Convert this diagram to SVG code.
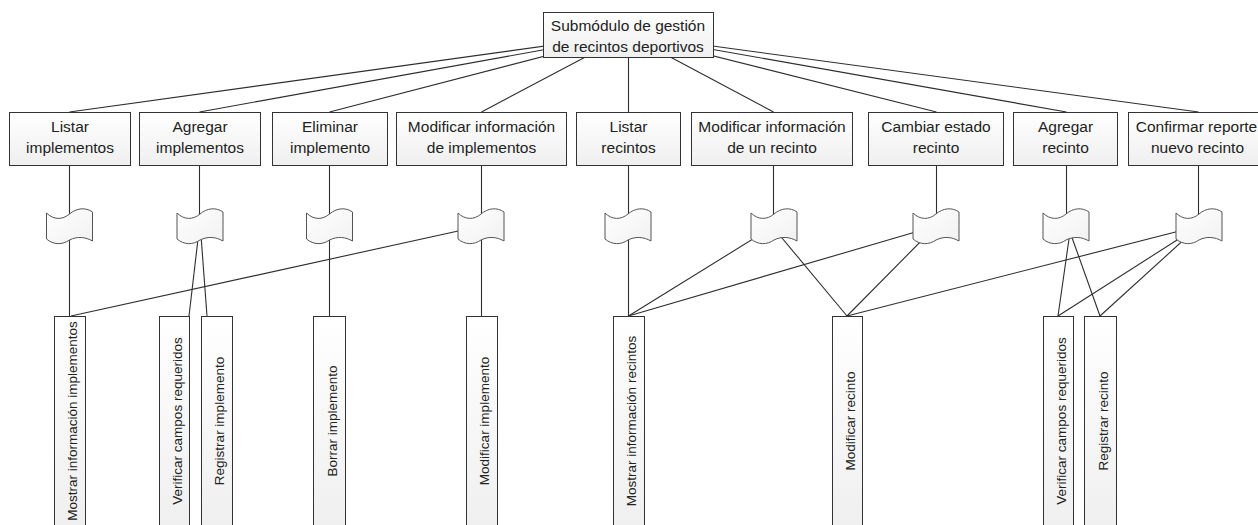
<svg xmlns="http://www.w3.org/2000/svg" width="1258" height="525" viewBox="0 0 1258 525">
  <defs>
    <linearGradient id="boxFill" x1="0" y1="0" x2="0" y2="1">
      <stop offset="0" stop-color="#ffffff"/>
      <stop offset="1" stop-color="#efefef"/>
    </linearGradient>
    <linearGradient id="flagFill" x1="0" y1="0" x2="1" y2="1">
      <stop offset="0" stop-color="#ffffff"/>
      <stop offset="1" stop-color="#f1f1f1"/>
    </linearGradient>
    <!-- wavy "tape" symbol, centred on its origin -->
    <path id="tape" d="M -23,-13 C -16,-6 -7,-6 0,-12 C 7,-18 16,-19 23,-14 L 23,15 C 16,11 8,10 0,14 C -7,19 -16,19 -23,13 Z"/>
  </defs>
  <style>
    .box { fill: url(#boxFill); stroke: #333333; stroke-width: 1; }
    .flag { fill: url(#flagFill); stroke: #555555; stroke-width: 1; }
    .lbl { font-family: "Liberation Sans", Arial, sans-serif; font-size: 15.5px; fill: #222222; text-anchor: middle; }
    .vlbl { font-family: "Liberation Sans", Arial, sans-serif; font-size: 13.5px; fill: #222222; text-anchor: middle; }
    #connectors line { stroke: #2e2e2e; stroke-width: 1.1; fill: none; }
  </style>
  <rect width="1258" height="525" fill="#ffffff"/>

  <g id="connectors">
    <!-- root to first level -->
    <line x1="628" y1="34.5" x2="69.5" y2="112"/>
    <line x1="628" y1="34.5" x2="199.5" y2="112"/>
    <line x1="628" y1="34.5" x2="329.5" y2="112"/>
    <line x1="628" y1="34.5" x2="481.5" y2="112"/>
    <line x1="628.5" y1="34.5" x2="628.5" y2="112"/>
    <line x1="628" y1="34.5" x2="773.5" y2="112"/>
    <line x1="628" y1="34.5" x2="936.5" y2="112"/>
    <line x1="628" y1="34.5" x2="1066.5" y2="112"/>
    <line x1="628" y1="34.5" x2="1198.5" y2="112"/>
    <!-- first level down to tapes -->
    <line x1="69.5" y1="165" x2="69.5" y2="316"/>
    <line x1="199.5" y1="165" x2="199.5" y2="226"/>
    <line x1="329.5" y1="165" x2="329.5" y2="316"/>
    <line x1="481.5" y1="165" x2="481.5" y2="316"/>
    <line x1="628.5" y1="165" x2="628.5" y2="316"/>
    <line x1="773.5" y1="165" x2="773.5" y2="226"/>
    <line x1="936.5" y1="165" x2="936.5" y2="226"/>
    <line x1="1066.5" y1="165" x2="1066.5" y2="226"/>
    <line x1="1198.5" y1="165" x2="1198.5" y2="226"/>
    <!-- tapes to operations -->
    <line x1="200" y1="222" x2="189" y2="316"/>
    <line x1="200" y1="222" x2="207" y2="316"/>
    <line x1="481" y1="226" x2="71" y2="316"/>
    <line x1="774" y1="226" x2="628.5" y2="316"/>
    <line x1="772" y1="226" x2="847" y2="316"/>
    <line x1="936" y1="226" x2="628.5" y2="316"/>
    <line x1="936" y1="226" x2="847" y2="316"/>
    <line x1="1070" y1="232" x2="1058" y2="316"/>
    <line x1="1070" y1="232" x2="1100" y2="316"/>
    <line x1="1199" y1="226" x2="847" y2="316"/>
    <line x1="1199" y1="226" x2="1058" y2="316"/>
    <line x1="1199" y1="226" x2="1100" y2="316"/>
  </g>

  <g id="root">
    <rect class="box" x="543.5" y="12.5" width="170" height="45"/>
    <text class="lbl" x="628" y="31">Submódulo de gestión</text>
    <text class="lbl" x="628" y="51.5">de recintos deportivos</text>
  </g>

  <g id="listar-implementos">
    <rect class="box" x="9.5" y="112.5" width="121" height="53"/>
    <text class="lbl" x="70" y="131.5">Listar</text>
    <text class="lbl" x="70" y="153">implementos</text>
  </g>
  <g id="agregar-implementos">
    <rect class="box" x="139.5" y="112.5" width="121" height="53"/>
    <text class="lbl" x="200" y="131.5">Agregar</text>
    <text class="lbl" x="200" y="153">implementos</text>
  </g>
  <g id="eliminar-implemento">
    <rect class="box" x="272.5" y="112.5" width="115" height="53"/>
    <text class="lbl" x="330" y="131.5">Eliminar</text>
    <text class="lbl" x="330" y="153">implemento</text>
  </g>
  <g id="modificar-implementos">
    <rect class="box" x="396.5" y="112.5" width="170" height="53"/>
    <text class="lbl" x="481.5" y="131.5">Modificar información</text>
    <text class="lbl" x="481.5" y="153">de implementos</text>
  </g>
  <g id="listar-recintos">
    <rect class="box" x="576.5" y="112.5" width="104" height="53"/>
    <text class="lbl" x="628.5" y="131.5">Listar</text>
    <text class="lbl" x="628.5" y="153">recintos</text>
  </g>
  <g id="modificar-recinto-info">
    <rect class="box" x="691.5" y="112.5" width="161" height="53"/>
    <text class="lbl" x="772" y="131.5">Modificar información</text>
    <text class="lbl" x="772" y="153">de un recinto</text>
  </g>
  <g id="cambiar-estado">
    <rect class="box" x="868.5" y="112.5" width="135" height="53"/>
    <text class="lbl" x="936" y="131.5">Cambiar estado</text>
    <text class="lbl" x="936" y="153">recinto</text>
  </g>
  <g id="agregar-recinto">
    <rect class="box" x="1013.5" y="112.5" width="104" height="53"/>
    <text class="lbl" x="1065.5" y="131.5">Agregar</text>
    <text class="lbl" x="1065.5" y="153">recinto</text>
  </g>
  <g id="confirmar-reporte">
    <rect class="box" x="1128.5" y="112.5" width="138" height="53"/>
    <text class="lbl" x="1196.5" y="131.5">Confirmar reporte</text>
    <text class="lbl" x="1197.5" y="153">nuevo recinto</text>
  </g>

  <g id="tapes">
    <use href="#tape" class="flag" x="69.5" y="226"/>
    <use href="#tape" class="flag" x="200" y="226"/>
    <use href="#tape" class="flag" x="329.5" y="226"/>
    <use href="#tape" class="flag" x="481" y="226"/>
    <use href="#tape" class="flag" x="628" y="226"/>
    <use href="#tape" class="flag" x="774" y="226"/>
    <use href="#tape" class="flag" x="936" y="226"/>
    <use href="#tape" class="flag" x="1066" y="226"/>
    <use href="#tape" class="flag" x="1199" y="226"/>
  </g>

  <g id="mostrar-info-implementos">
    <rect class="box" x="54.5" y="316.5" width="31" height="215"/>
    <text class="vlbl" transform="translate(69.5,421) rotate(-90)" y="7">Mostrar información implementos</text>
  </g>
  <g id="verificar-campos-implemento">
    <rect class="box" x="159.5" y="316.5" width="30" height="215"/>
    <text class="vlbl" transform="translate(174.5,421) rotate(-90)" y="7">Verificar campos requeridos</text>
  </g>
  <g id="registrar-implemento">
    <rect class="box" x="201.5" y="316.5" width="31" height="215"/>
    <text class="vlbl" transform="translate(217,421) rotate(-90)" y="6.5">Registrar implemento</text>
  </g>
  <g id="borrar-implemento">
    <rect class="box" x="313.5" y="316.5" width="32" height="215"/>
    <text class="vlbl" transform="translate(329.5,421) rotate(-90)" y="7">Borrar implemento</text>
  </g>
  <g id="modificar-implemento">
    <rect class="box" x="466.5" y="316.5" width="31" height="215"/>
    <text class="vlbl" transform="translate(482,421) rotate(-90)" y="7">Modificar implemento</text>
  </g>
  <g id="mostrar-info-recintos">
    <rect class="box" x="613.5" y="316.5" width="31" height="215"/>
    <text class="vlbl" transform="translate(629,421) rotate(-90)" y="7">Mostrar información recintos</text>
  </g>
  <g id="modificar-recinto">
    <rect class="box" x="832.5" y="316.5" width="30" height="215"/>
    <text class="vlbl" transform="translate(847.5,421) rotate(-90)" y="7">Modificar recinto</text>
  </g>
  <g id="verificar-campos-recinto">
    <rect class="box" x="1043.5" y="316.5" width="30" height="215"/>
    <text class="vlbl" transform="translate(1058.5,421) rotate(-90)" y="7">Verificar campos requeridos</text>
  </g>
  <g id="registrar-recinto">
    <rect class="box" x="1084.5" y="316.5" width="32" height="215"/>
    <text class="vlbl" transform="translate(1100.5,421) rotate(-90)" y="7">Registrar recinto</text>
  </g>
</svg>
